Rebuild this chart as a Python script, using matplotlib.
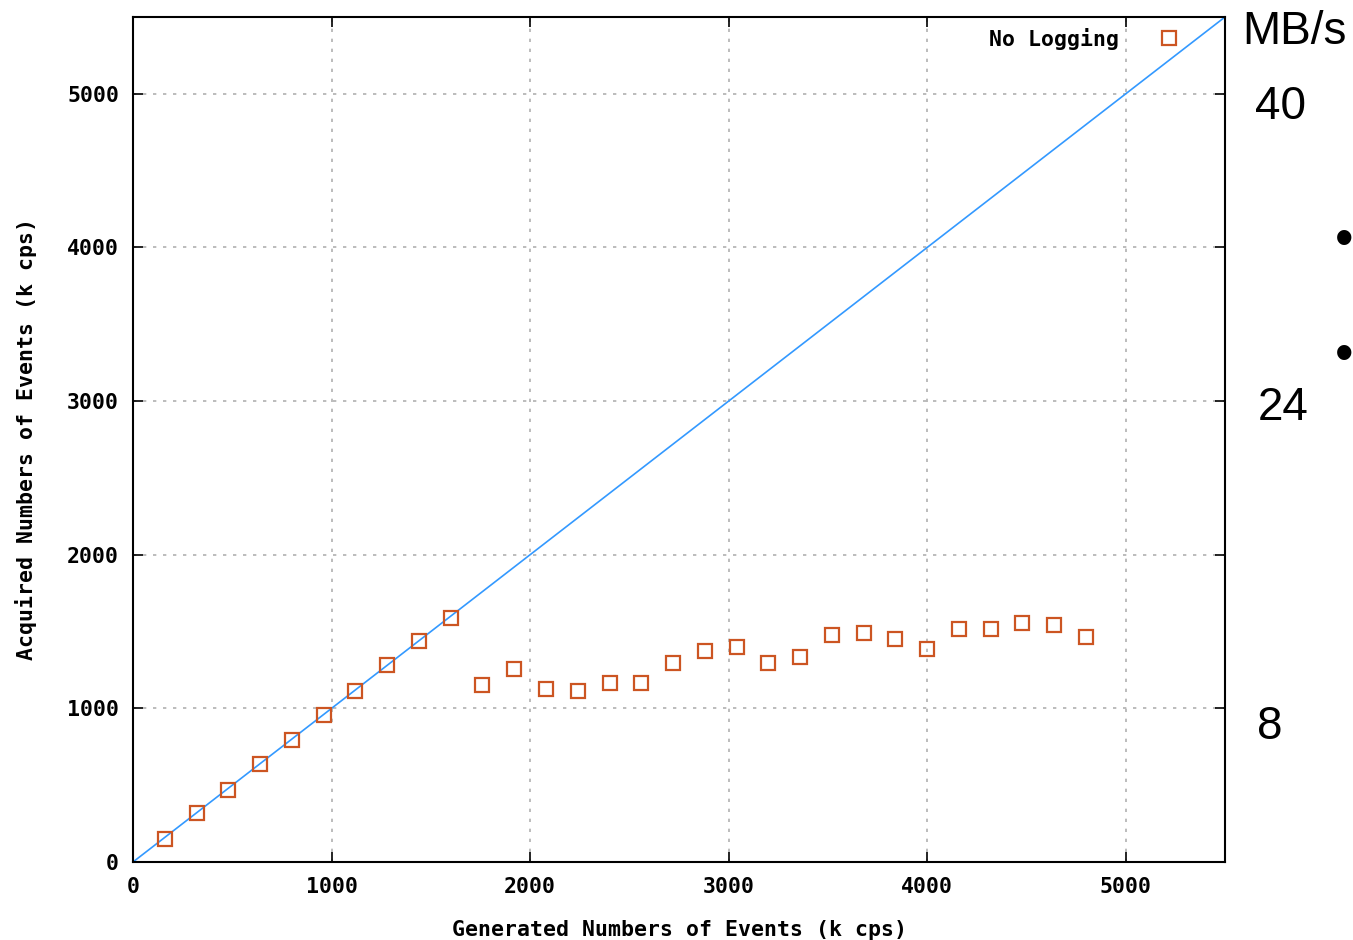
import matplotlib.pyplot as plt

gen_x = [160 * i for i in range(1, 31)]
acq_y = [150, 320, 470, 640, 795, 958, 1115, 1284, 1440, 1590,
         1154, 1258, 1128, 1115, 1167, 1167, 1297, 1375, 1402, 1297,
         1336, 1480, 1493, 1454, 1389, 1519, 1519, 1558, 1545, 1467]
line_x = [0, 5500]
line_y = [0, 5500]
ticks = [0, 1000, 2000, 3000, 4000, 5000]
side_labels = ["MB/s", "40", "24", "8"]

mono = 'DejaVu Sans Mono'
fs = 15.5

fig = plt.figure(figsize=(13.53, 9.40), dpi=100)
ax = fig.add_axes([133 / 1353, 78 / 940, 1092 / 1353, 845 / 940])

ax.plot(line_x, line_y, color='#3399ff', lw=1.2, zorder=2)
ax.plot(gen_x, acq_y, ls='none', marker='s', ms=10.5, mfc='none',
        mec='#cc5522', mew=1.6, label='No Logging', zorder=3)

ax.set_xlim(0, 5500)
ax.set_ylim(0, 5500)
ax.set_xticks(ticks)
ax.set_yticks(ticks)
ax.set_xticklabels([str(t) for t in ticks], family=mono, weight='bold', fontsize=fs)
ax.set_yticklabels([str(t) for t in ticks], family=mono, weight='bold', fontsize=fs)
ax.tick_params(direction='in', length=7, width=1.2, top=True, right=True)
ax.tick_params(axis='x', pad=11)
ax.tick_params(axis='y', pad=10)
ax.grid(True, color='#b0b0b0', ls=(0, (2, 4)), lw=1.2)
for s in ax.spines.values():
    s.set_linewidth(1.5)

ax.set_xlabel('Generated Numbers of Events (k cps)', family=mono, weight='bold',
              fontsize=fs, labelpad=16)
ax.set_ylabel('Acquired Numbers of Events (k cps)', family=mono, weight='bold',
              fontsize=fs, labelpad=22)

leg = ax.legend(loc='upper right', frameon=False, markerfirst=False,
                prop={'family': mono, 'weight': 'bold', 'size': fs},
                handletextpad=1.3, borderaxespad=0.1, bbox_to_anchor=(0.978, 1.0))

# side annotations
fig.text(1242 / 1353, 1 - 32 / 940, side_labels[0], family='Liberation Sans',
         fontsize=33, va='center', ha='left')
fig.text(1280 / 1353, 1 - 107 / 940, side_labels[1], family='Liberation Sans',
         fontsize=33, va='center', ha='center')
fig.text(1283 / 1353, 1 - 408 / 940, side_labels[2], family='Liberation Sans',
         fontsize=33, va='center', ha='center')
fig.text(1270 / 1353, 1 - 727 / 940, side_labels[3], family='Liberation Sans',
         fontsize=33, va='center', ha='center')
for yb in [242, 357]:
    fig.text(1344 / 1353, 1 - yb / 940, '\u2022', family='Liberation Sans',
             fontsize=38, va='center', ha='center')

fig.savefig('out.png', dpi=100)
